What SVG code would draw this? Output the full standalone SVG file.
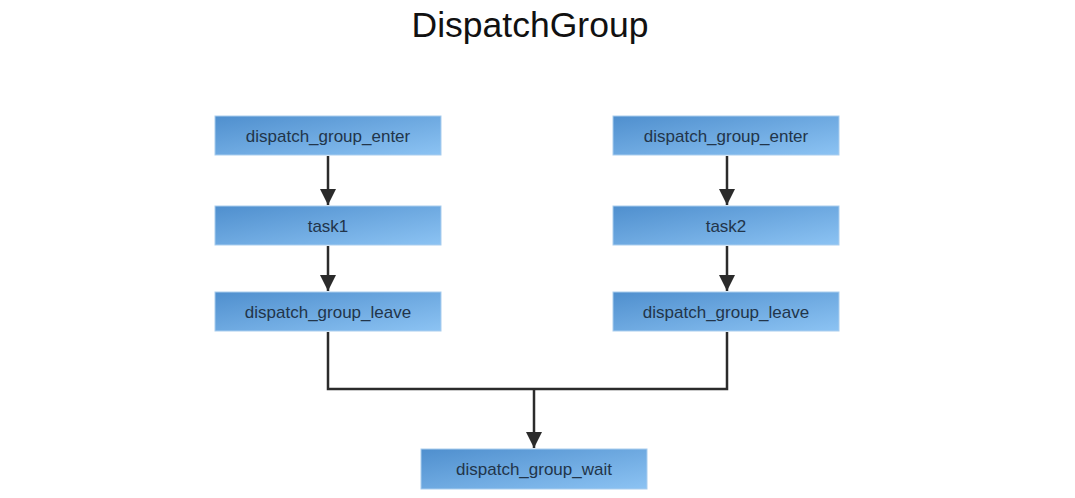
<svg xmlns="http://www.w3.org/2000/svg" width="1075" height="498" viewBox="0 0 1075 498">
<style>
.box{fill:url(#g);stroke:#a9cdee;stroke-width:1}
.lbl{font-family:"Liberation Sans",Arial,sans-serif;font-size:17px;fill:#22354a;text-anchor:middle}
.title{font-family:"Liberation Sans",Arial,sans-serif;font-size:35.5px;fill:#111;text-anchor:middle}
.ln{fill:none;stroke:#2b2b2b;stroke-width:2.5}
</style>
<defs>
<linearGradient id="g" x1="0" y1="0" x2="1" y2="1">
<stop offset="0" stop-color="#4f8fce"/>
<stop offset="1" stop-color="#8cc3f3"/>
</linearGradient>
<marker id="ah" markerUnits="userSpaceOnUse" markerWidth="16" markerHeight="18" refX="16" refY="8" orient="auto">
<path d="M0,0 L16,8 L0,16 Z" fill="#2b2b2b"/>
</marker>
</defs>
<rect width="1075" height="498" fill="#fff"/>
<text class="title" x="530" y="37">DispatchGroup</text>
<g id="connectors">
<line class="ln" x1="328" y1="156" x2="328" y2="205" marker-end="url(#ah)"/>
<line class="ln" x1="328" y1="246" x2="328" y2="291" marker-end="url(#ah)"/>
<line class="ln" x1="727" y1="156" x2="727" y2="205" marker-end="url(#ah)"/>
<line class="ln" x1="727" y1="246" x2="727" y2="291" marker-end="url(#ah)"/>
<polyline class="ln" points="328,332 328,389 727,389 727,332"/>
<line class="ln" x1="534" y1="389" x2="534" y2="448" marker-end="url(#ah)"/>
</g>
<g id="enter1"><rect class="box" x="215" y="116" width="226" height="39"/><text class="lbl" x="328" y="142">dispatch_group_enter</text></g>
<g id="task1"><rect class="box" x="215" y="206" width="226" height="39"/><text class="lbl" x="328" y="232">task1</text></g>
<g id="leave1"><rect class="box" x="215" y="292" width="226" height="39"/><text class="lbl" x="328" y="318">dispatch_group_leave</text></g>
<g id="enter2"><rect class="box" x="613" y="116" width="226" height="39"/><text class="lbl" x="726" y="142">dispatch_group_enter</text></g>
<g id="task2"><rect class="box" x="613" y="206" width="226" height="39"/><text class="lbl" x="726" y="232">task2</text></g>
<g id="leave2"><rect class="box" x="613" y="292" width="226" height="39"/><text class="lbl" x="726" y="318">dispatch_group_leave</text></g>
<g id="wait"><rect class="box" x="421" y="449" width="226" height="40"/><text class="lbl" x="534" y="475">dispatch_group_wait</text></g>
</svg>
